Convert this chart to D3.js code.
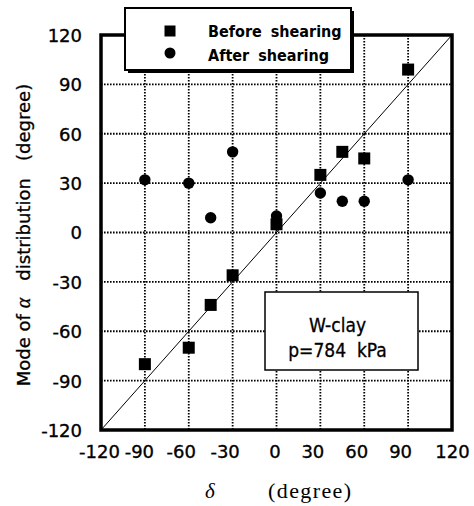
<!DOCTYPE html>
<html>
<head>
<meta charset="utf-8">
<script src="https://cdn.jsdelivr.net/npm/d3@7"></script>
<style>
  html, body { margin: 0; padding: 0; background: #fff; }
  svg { display: block; }
</style>
</head>
<body>
<svg id="chart" width="474" height="506"></svg>
<script>
// Angle of the shear plane (delta) for each specimen, degrees
const deltaBefore = [-90, -60, -45, -30, 0, 30, 45, 60, 90];
// Mode of alpha distribution before shearing, degrees
const modeBefore = [-80, -70, -44, -26, 5, 35, 49, 45, 99];

const deltaAfter = [-90, -60, -45, -30, 0, 30, 45, 60, 90];
// Mode of alpha distribution after shearing, degrees
const modeAfter = [32, 30, 9, 49, 10, 24, 19, 19, 32];

const xTicks = [-120, -90, -60, -30, 0, 30, 60, 90, 120];
const yTicks = [-120, -90, -60, -30, 0, 30, 60, 90, 120];
const gridValues = [-90, -60, -30, 0, 30, 60, 90];
const legendLabels = ["Before shearing", "After shearing"];
const noteLines = ["W-clay", "p=784  kPa"];

const svg = d3.select("#chart");
const plot = { left: 101, right: 452, top: 35, bottom: 430 };

const x = d3.scaleLinear().domain([-120, 120]).range([plot.left, plot.right]);
const y = d3.scaleLinear().domain([-120, 120]).range([plot.bottom, plot.top]);

const sansFont = "'DejaVu Sans', Verdana, sans-serif";
const condFont = "'DejaVu Sans Condensed', 'DejaVu Sans', sans-serif";
const serifFont = "'Liberation Serif', 'Times New Roman', serif";
// plain hyphen for negative numbers
const fmt = d => String(d);

// dotted grid
const grid = svg.append("g");
grid.selectAll("line.v").data(gridValues).join("line")
  .attr("x1", d => x(d)).attr("x2", d => x(d))
  .attr("y1", plot.top).attr("y2", plot.bottom)
  .attr("stroke", "#000").attr("stroke-width", 1.8)
  .attr("stroke-dasharray", "1.6,1.4");
grid.selectAll("line.h").data(gridValues).join("line")
  .attr("y1", d => y(d)).attr("y2", d => y(d))
  .attr("x1", plot.left).attr("x2", plot.right)
  .attr("stroke", "#000").attr("stroke-width", 1.8)
  .attr("stroke-dasharray", "1.6,1.4");

// 1:1 line
svg.append("line")
  .attr("x1", x(-120)).attr("y1", y(-120))
  .attr("x2", x(120)).attr("y2", y(120))
  .attr("stroke", "#000").attr("stroke-width", 1);

// axes (labels only; the frame is drawn separately)
const xAxis = svg.append("g")
  .attr("transform", `translate(0,${plot.bottom})`)
  .call(d3.axisBottom(x).tickValues(xTicks).tickSize(0).tickPadding(15).tickFormat(fmt));
const yAxis = svg.append("g")
  .attr("transform", `translate(${plot.left},0)`)
  .call(d3.axisLeft(y).tickValues(yTicks).tickSize(0).tickPadding(19).tickFormat(fmt));
[xAxis, yAxis].forEach(a => {
  a.select(".domain").remove();
  a.selectAll("text")
    .attr("font-family", sansFont)
    .attr("font-size", 18)
    .attr("fill", "#000")
    .attr("stroke", "#000")
    .attr("stroke-width", 0.35);
});
xAxis.selectAll("text")
  .attr("dy", "0.71em")
  .attr("dx", d => (d === -120 ? -2 : d === 120 ? 0 : d === 0 ? -2 : d === -90 ? -6 : -8));
yAxis.selectAll("text").attr("dy", "0.36em");

// data: after shearing (circles), then before shearing (squares)
const afterData = deltaAfter.map((d, i) => ({ x: d, y: modeAfter[i] }));
const beforeData = deltaBefore.map((d, i) => ({ x: d, y: modeBefore[i] }));

svg.append("g").selectAll("circle").data(afterData).join("circle")
  .attr("cx", d => x(d.x)).attr("cy", d => y(d.y))
  .attr("r", 5.7).attr("fill", "#000");

const sq = 12;
svg.append("g").selectAll("rect").data(beforeData).join("rect")
  .attr("x", d => x(d.x) - sq / 2).attr("y", d => y(d.y) - sq / 2)
  .attr("width", sq).attr("height", sq).attr("fill", "#000");

// frame
svg.append("rect")
  .attr("x", plot.left).attr("y", plot.top)
  .attr("width", plot.right - plot.left).attr("height", plot.bottom - plot.top)
  .attr("fill", "none").attr("stroke", "#000").attr("stroke-width", 3.5);

// legend box with drop shadow
const lg = { x: 125, y: 8, w: 226, h: 62 };
svg.append("rect")
  .attr("x", lg.x + 3).attr("y", lg.y + 3).attr("width", lg.w).attr("height", lg.h)
  .attr("fill", "#000");
svg.append("rect")
  .attr("x", lg.x).attr("y", lg.y).attr("width", lg.w).attr("height", lg.h)
  .attr("fill", "#fff").attr("stroke", "#000").attr("stroke-width", 2);

const legend = svg.append("g");
legend.append("rect")
  .attr("x", 170 - 5.5).attr("y", 31 - 5.5).attr("width", 11).attr("height", 11)
  .attr("fill", "#000");
legend.append("circle").attr("cx", 170).attr("cy", 53).attr("r", 5.5).attr("fill", "#000");
legend.selectAll("text").data(legendLabels).join("text")
  .attr("x", 208).attr("y", (d, i) => 37 + i * 24)
  .attr("font-family", condFont)
  .attr("font-weight", "bold")
  .attr("font-size", 16)
  .attr("word-spacing", 4)
  .attr("fill", "#000")
  .text(d => d);

// note box
const nb = { x: 265, y: 292, w: 153, h: 78 };
svg.append("rect")
  .attr("x", nb.x).attr("y", nb.y).attr("width", nb.w).attr("height", nb.h)
  .attr("fill", "#fff").attr("stroke", "#000").attr("stroke-width", 1.5);
svg.append("g").selectAll("text").data(noteLines).join("text")
  .attr("x", nb.x + nb.w / 2 - 4).attr("y", (d, i) => 332 + i * 25)
  .attr("text-anchor", "middle")
  .attr("font-family", condFont)
  .attr("font-size", 19)
  .attr("fill", "#000")
  .attr("stroke", "#000")
  .attr("stroke-width", 0.3)
  .style("white-space", "pre")
  .text(d => d);

// y axis title
const yTitle = svg.append("text")
  .attr("transform", "translate(30,235) rotate(-90)")
  .attr("text-anchor", "middle")
  .attr("font-family", sansFont)
  .attr("font-size", 18)
  .attr("fill", "#000")
  .attr("stroke", "#000")
  .attr("stroke-width", 0.3)
  .style("white-space", "pre");
yTitle.append("tspan").text("Mode of ");
yTitle.append("tspan").attr("font-family", serifFont).attr("font-style", "italic").attr("font-size", 20).text("α");
yTitle.append("tspan").text("   distribution   (degree)");

// x axis title
svg.append("text")
  .attr("x", 210).attr("y", 498)
  .attr("text-anchor", "middle")
  .attr("font-family", serifFont)
  .attr("font-style", "italic")
  .attr("font-size", 21)
  .attr("fill", "#000")
  .text("δ");
svg.append("text")
  .attr("x", 268).attr("y", 498)
  .attr("font-family", serifFont)
  .attr("font-size", 22)
  .attr("letter-spacing", 1.4)
  .attr("fill", "#000")
  .text("(degree)");
</script>
</body>
</html>
